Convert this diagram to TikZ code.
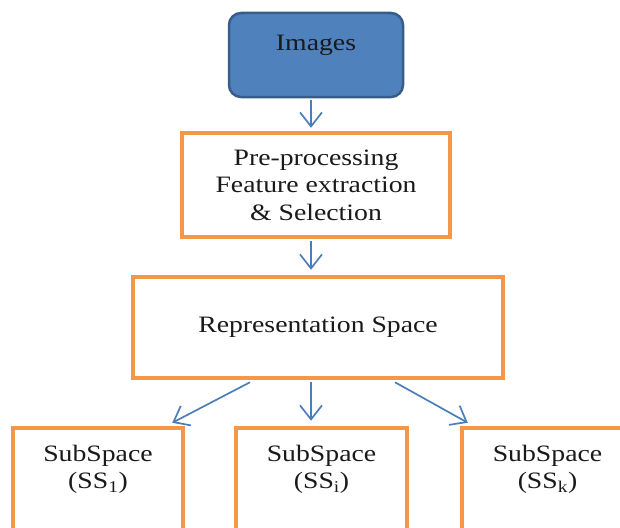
\documentclass[tikz,border=0pt]{standalone}
\usepackage{fontspec}
\setmainfont{Liberation Serif}[FakeStretch=1.18]
\usetikzlibrary{arrows.meta,calc}
\definecolor{orng}{HTML}{F79646}
\definecolor{blfill}{HTML}{4F81BD}
\definecolor{bledge}{HTML}{385D8A}
\definecolor{arrowc}{HTML}{4A7EBB}
\definecolor{txt}{HTML}{1A1A1A}
\begin{document}
\begin{tikzpicture}[x=1pt,y=-1pt,
  lbl/.style={font=\fontsize{23.5}{27.5}\selectfont, text=txt, align=center, inner sep=0pt},
  obox/.style={draw=orng, line width=4.5pt, fill=white, inner sep=0pt},
  ibox/.style={draw=bledge, fill=blfill, line width=2.5pt, rounded corners=12pt, inner sep=0pt},
  conn/.style={draw=arrowc, line width=1.7pt, -{Straight Barb[length=14pt,width=22pt]}}]
\useasboundingbox (0,0) rectangle (620,527);
\clip (0,0) rectangle (620,527);
\fill[white] (0,0) rectangle (620,527);
% nodes
\node[ibox, lbl, minimum width=174, minimum height=84, text height=20pt, text depth=28pt] (img) at (316,55) {Images};
\node[obox, lbl, minimum width=268, minimum height=104] (pre) at (316,185) {Pre-processing\\Feature extraction\\\& Selection};
\node[obox, lbl, minimum width=370, minimum height=101] (rep) at (318,327.5) {Representation Space};
\node[obox, minimum width=170, minimum height=172] (s1) at (98,514) {};
\node[obox, minimum width=171, minimum height=172] (s2) at (321.5,514) {};
\node[obox, minimum width=171, minimum height=172] (s3) at (547.5,514) {};
\node[lbl, anchor=north] (t1) at ($(s1.north)+(0,19)$) {SubSpace\\(SS\textsubscript{1})};
\node[lbl, anchor=north] (t2) at ($(s2.north)+(0,19)$) {SubSpace\\(SS\textsubscript{i})};
\node[lbl, anchor=north] (t3) at ($(s3.north)+(0,19)$) {SubSpace\\(SS\textsubscript{k})};
% connectors
\coordinate (ax) at (311,0);
\coordinate (lx) at (250,0);
\coordinate (rx) at (395,0);
\draw[conn] ($(img.south -| ax)+(0,1.5)$) -- ($(pre.north -| ax)+(0,-3)$);
\draw[conn] ($(pre.south -| ax)+(0,2)$) -- ($(rep.north -| ax)+(0,-5)$);
\draw[conn] ($(rep.south -| lx)+(0,2)$) -- ($(s1.north east)+(-13,-3)$);
\draw[conn] ($(rep.south -| ax)+(0,2)$) -- ($(s2.north -| ax)+(0,-5)$);
\draw[conn] ($(rep.south -| rx)+(0,2)$) -- ($(s3.north west)+(8,-3)$);
\end{tikzpicture}
\end{document}
